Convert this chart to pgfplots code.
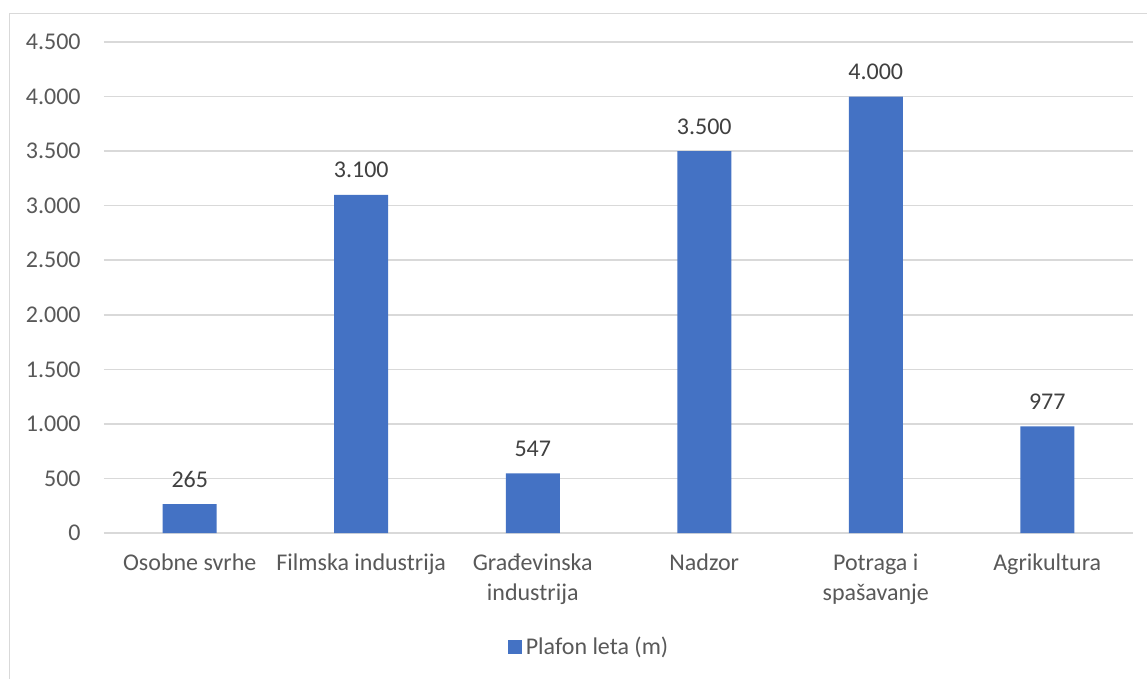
\documentclass[border=0pt]{standalone}
\usepackage{fontspec}
\setmainfont{Carlito}
\usepackage{pgfplots}
\pgfplotsset{compat=1.18}
\definecolor{barblue}{HTML}{4472C4}
\definecolor{gridgray}{HTML}{D9D9D9}
\definecolor{axtext}{HTML}{595959}
\definecolor{lbltext}{HTML}{404040}
\begin{document}
\begin{tikzpicture}
\useasboundingbox (0,0) rectangle (573.5pt,-339.5pt);
\fill[white] (0,0) rectangle (573.5pt,-339.5pt);
\draw[gridgray, line width=0.6pt] (4.75pt,-339.5pt) -- (4.75pt,-6.75pt) -- (573.5pt,-6.75pt);
\begin{axis}[
  at={(52pt,-266.5pt)}, anchor=south west,
  scale only axis, width=514.5pt, height=245.5pt,
  ybar, bar width=27pt, bar shift=0pt,
  xmin=-0.5, xmax=5.5, ymin=0, ymax=4500,
  ytick={0,500,...,4500},
  xtick=data,
  xticklabels={{\strut Osobne svrhe}, {\strut Filmska industrija}, {\strut Građevinska\\industrija}, {\strut Nadzor}, {\strut Potraga i\\spašavanje}, {\strut Agrikultura}},
  axis line style={draw=none},
  major tick style={draw=none},
  ymajorgrids, grid style={gridgray, line width=0.75pt},
  /pgf/number format/.cd, fixed, precision=0, 1000 sep={.}, assume math mode=true,
  /pgfplots/.cd,
  yticklabel style={font=\fontsize{12}{14.5}\selectfont, color=axtext, inner sep=0pt, xshift=-11.5pt},
  xticklabel style={font=\fontsize{12}{14.8}\selectfont, color=axtext, inner sep=0pt, align=center, anchor=north, yshift=-4.1pt},
  nodes near coords,
  every node near coord/.append style={font=\fontsize{12}{14.5}\selectfont, color=lbltext, anchor=base, inner sep=0pt, yshift=8.4pt},
  legend style={at={(0.4723,-0.2322)}, anchor=center, draw=none, fill=none, font=\fontsize{12}{14.5}\selectfont, text=axtext, inner sep=0pt},
  legend image code/.code={\fill[barblue] (0pt,-3.5pt) rectangle (7pt,3.5pt);},
  legend cell align=left,
]
\addplot[fill=barblue, draw=none] coordinates {(0,265) (1,3100) (2,547) (3,3500) (4,4000) (5,977)};
\addlegendentry{Plafon leta (m)}
\end{axis}
\end{tikzpicture}
\end{document}
